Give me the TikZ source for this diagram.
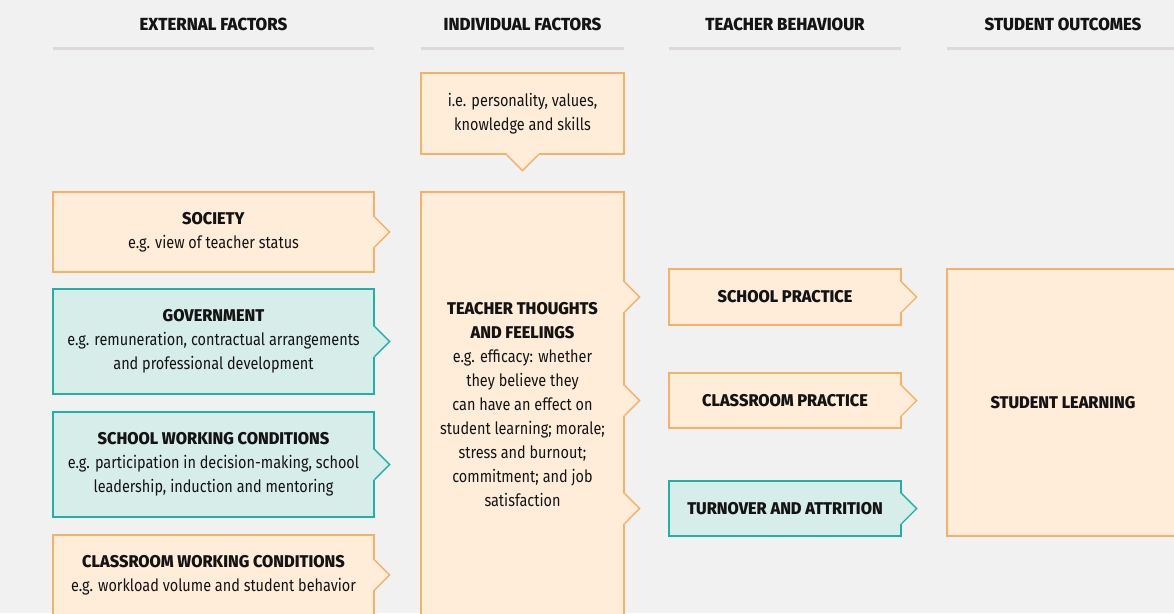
\documentclass[tikz,border=0pt]{standalone}
\usepackage{fontspec}
\setmainfont[FakeStretch=0.85, BoldFont={Fira Sans ExtraBold}, BoldFeatures={FakeStretch=0.96}]{Fira Sans}
\usetikzlibrary{calc}

\definecolor{bgc}{HTML}{F1F1F1}
\definecolor{orfill}{HTML}{FFEDDA}
\definecolor{orline}{HTML}{F7B166}
\definecolor{tlfill}{HTML}{D6EDE9}
\definecolor{tlline}{HTML}{22B0A4}
\definecolor{rulec}{HTML}{DEDADA}
\definecolor{txt}{HTML}{141414}

% outward pointing notch on the right side / bottom side of a box
\newcommand{\rnotch}[3]{%
  \fill[#2] ($(#1)+(-1.5,-15)$) -- ($(#1)+(0.7,-15)$) -- ($(#1)+(15,0)$) -- ($(#1)+(0.7,15)$) -- ($(#1)+(-1.5,15)$) -- cycle;
  \draw[#3, line width=1.3pt] ($(#1)+(0,-15)$) -- ($(#1)+(15,0)$) -- ($(#1)+(0,15)$);}
\newcommand{\dnotch}[3]{%
  \fill[#2] ($(#1)+(-16,-1.5)$) -- ($(#1)+(-16,0.7)$) -- ($(#1)+(0,16)$) -- ($(#1)+(16,0.7)$) -- ($(#1)+(16,-1.5)$) -- cycle;
  \draw[#3, line width=1.3pt] ($(#1)+(-16,0)$) -- ($(#1)+(0,16)$) -- ($(#1)+(16,0)$);}

\begin{document}
\begin{tikzpicture}[
  x=1pt, y=-1pt,
  font=\fontsize{17}{24}\selectfont, text=txt,
  orbox/.style={draw=orline, fill=orfill, line width=1.3pt, align=center, inner sep=0pt},
  tlbox/.style={draw=tlline, fill=tlfill, line width=1.3pt, align=center, inner sep=0pt},
  head/.style={font=\fontsize{17.5}{20}\selectfont\bfseries},
  rulel/.style={rulec, line width=3pt}
]
\useasboundingbox (0,0) rectangle (1174,613);
\fill[bgc] (0,0) rectangle (1174,613);
\clip (0,0) rectangle (1174,613);

% column heads
\node[head] (hext) at (213.5,24) {EXTERNAL FACTORS};
\node[head] (hind) at (522.5,24) {INDIVIDUAL FACTORS};
\node[head] (hbeh) at (785,24) {TEACHER BEHAVIOUR};
\node[head] (hout) at (1063,24) {STUDENT OUTCOMES};
\draw[rulel] (53,48) -- (374,48);
\draw[rulel] (421,48) -- (624,48);
\draw[rulel] (669,48) -- (901,48);
\draw[rulel] (947,48) -- (1174,48);

% external factors
\node[orbox, minimum width=321pt, minimum height=80pt] (soc) at (213.5,232)
  {\textbf{SOCIETY}\\e.g. view of teacher status};
\node[tlbox, minimum width=321pt, minimum height=105pt] (gov) at (213.5,341.5)
  {\textbf{GOVERNMENT}\\e.g. remuneration, contractual arrangements\\and professional development};
\node[tlbox, minimum width=321pt, minimum height=105pt] (swc) at (213.5,464.5)
  {\textbf{SCHOOL WORKING CONDITIONS}\\e.g. participation in decision-making, school\\leadership, induction and mentoring};
\node[orbox, minimum width=321pt, minimum height=80pt] (cwc) at (213.5,575)
  {\textbf{CLASSROOM WORKING CONDITIONS}\\e.g. workload volume and student behavior};

% individual factors
\node[orbox, minimum width=203pt, minimum height=81pt] (pers) at (522.5,113.5)
  {i.e. personality, values,\\knowledge and skills};
\node[orbox, minimum width=203pt, minimum height=426pt] (thoughts) at (522.5,405)
  {\textbf{TEACHER THOUGHTS}\\\textbf{AND FEELINGS}\\e.g. efficacy: whether\\they believe they\\can have an effect on\\student learning; morale;\\stress and burnout;\\commitment; and job\\satisfaction};

% teacher behaviour
\node[orbox, minimum width=232pt, minimum height=56pt] (spr) at (785,297)
  {\textbf{SCHOOL PRACTICE}};
\node[orbox, minimum width=232pt, minimum height=55pt] (cpr) at (785,400.5)
  {\textbf{CLASSROOM PRACTICE}};
\node[tlbox, minimum width=232pt, minimum height=55pt] (turn) at (785,508.5)
  {\textbf{TURNOVER AND ATTRITION}};

% student outcomes
\node[orbox, minimum width=232pt, minimum height=267pt] (learn) at (1063,402.5)
  {\textbf{STUDENT LEARNING}};

% notches
\rnotch{soc.east}{orfill}{orline}
\rnotch{gov.east}{tlfill}{tlline}
\rnotch{swc.east}{tlfill}{tlline}
\rnotch{cwc.east}{orfill}{orline}
\dnotch{pers.south}{orfill}{orline}
\rnotch{thoughts.east |- spr.east}{orfill}{orline}
\rnotch{thoughts.east |- cpr.east}{orfill}{orline}
\rnotch{thoughts.east |- turn.east}{orfill}{orline}
\rnotch{spr.east}{orfill}{orline}
\rnotch{cpr.east}{orfill}{orline}
\rnotch{turn.east}{tlfill}{tlline}
\end{tikzpicture}
\end{document}
